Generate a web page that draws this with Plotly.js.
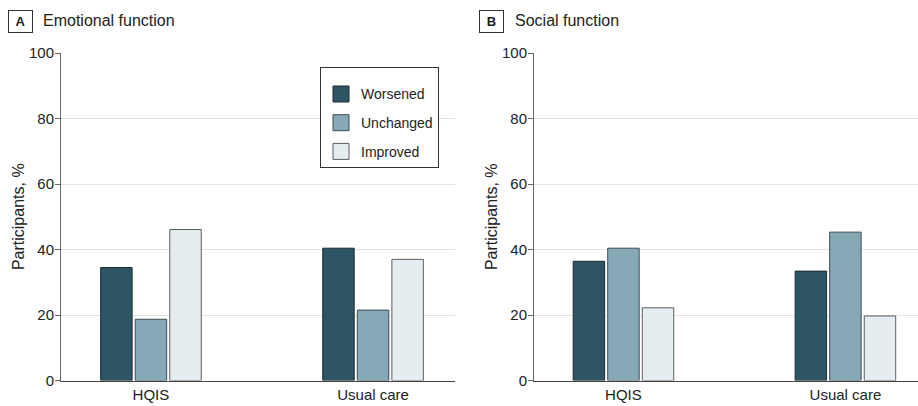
<!DOCTYPE html>
<html>
<head>
<meta charset="utf-8">
<script src="https://cdn.plot.ly/plotly-3.0.1.min.js"></script>
<style>html,body{margin:0;padding:0;background:#fff;}#chart{width:918px;height:406px;}</style>
</head>
<body>
<div id="chart"></div>
<script>
// ---- data ----
var categories = ['HQIS', 'Usual care'];
var seriesNames = ['Worsened', 'Unchanged', 'Improved'];
var emotionalWorsened = [34.5, 40.4];
var emotionalUnchanged = [18.7, 21.5];
var emotionalImproved = [46.1, 37.0];
var socialWorsened = [36.4, 33.4];
var socialUnchanged = [40.4, 45.3];
var socialImproved = [22.2, 19.7];
var panelTitles = ['Emotional function', 'Social function'];
var panelLetters = ['A', 'B'];
var yTicks = [0, 20, 40, 60, 80, 100];

// ---- styles ----
var fills = ['#2e5563', '#85a9b7', '#e5edf0'];
var outlines = ['#1e2b31', '#3f4c52', '#5a5f62'];
var FONT = 'Liberation Sans, Arial, sans-serif';
var W = 918, H = 406;
function px(x) { return x / W; }
function py(y) { return 1 - y / H; }

var emotional = [emotionalWorsened, emotionalUnchanged, emotionalImproved];
var social = [socialWorsened, socialUnchanged, socialImproved];

var traces = [];
[emotional, social].forEach(function (panel, p) {
  panel.forEach(function (vals, i) {
    traces.push({
      type: 'bar',
      x: categories,
      y: vals,
      name: seriesNames[i],
      xaxis: p === 0 ? 'x' : 'x2',
      yaxis: p === 0 ? 'y' : 'y2',
      marker: { color: fills[i], line: { color: outlines[i], width: 1 } },
      showlegend: false,
      hoverinfo: 'x+y+name'
    });
  });
});
// legend entries (square swatches)
seriesNames.forEach(function (n, i) {
  traces.push({
    type: 'scatter', mode: 'markers', x: [null], y: [null], name: n,
    legendgroup: n, xaxis: 'x', yaxis: 'y',
    marker: { symbol: 'square', size: 16, color: fills[i], line: { color: outlines[i], width: 1 } },
    showlegend: true, hoverinfo: 'skip'
  });
});

var yBottom = py(380.5), yTop = py(53);

function yAx(anchor) {
  return {
    domain: [yBottom, yTop], range: [0, 100], tickvals: yTicks, anchor: anchor,
    showgrid: true, gridcolor: '#e3e3e3', gridwidth: 1, zeroline: false,
    showline: true, linecolor: '#666', linewidth: 1,
    ticks: 'outside', ticklen: 5, tickcolor: '#666', tickwidth: 1,
    ticklabelstandoff: -2,
    tickfont: { family: FONT, size: 15, color: '#222' },
    title: { text: 'Participants, %', font: { family: FONT, size: 16, color: '#222' }, standoff: 0 },
    automargin: false, fixedrange: true
  };
}
function xAx(domain, range, anchor) {
  return {
    domain: domain, range: range, type: 'category', anchor: anchor,
    showgrid: false, zeroline: false, showline: true, linecolor: '#444', linewidth: 1,
    ticks: '', tickfont: { family: FONT, size: 15, color: '#222' },
    automargin: false, fixedrange: true
  };
}

var annotations = [];
[[8, 41], [479, 513]].forEach(function (pos, p) {
  annotations.push({
    xref: 'paper', yref: 'paper', x: px(pos[0]), y: py(10), xanchor: 'left', yanchor: 'top',
    text: '<b>' + panelLetters[p] + '</b>', showarrow: false,
    font: { family: FONT, size: 13, color: '#222' },
    bordercolor: '#333', borderwidth: 1, borderpad: 0, width: 23, height: 21, bgcolor: '#fff'
  });
  annotations.push({
    xref: 'paper', yref: 'paper', x: px(pos[1]), y: py(21), xanchor: 'left', yanchor: 'middle',
    text: panelTitles[p], showarrow: false,
    font: { family: FONT, size: 16, color: '#222' }
  });
});

var layout = {
  width: W, height: H,
  margin: { l: 0, r: 0, t: 0, b: 0, pad: 0 },
  paper_bgcolor: '#fff', plot_bgcolor: '#fff',
  barmode: 'group', bargap: 0.533, bargroupgap: 0.09,
  xaxis: xAx([px(61), px(455)], [-0.405, 1.369], 'y'),
  yaxis: yAx('x'),
  xaxis2: xAx([px(534), 1], [-0.403, 1.327], 'y2'),
  yaxis2: yAx('x2'),
  showlegend: true,
  legend: {
    x: px(320), y: py(67), xanchor: 'left', yanchor: 'top',
    bordercolor: '#333', borderwidth: 1, bgcolor: '#fff',
    font: { family: FONT, size: 14, color: '#222' },
    title: { text: ' ', font: { family: FONT, size: 8 } },
    traceorder: 'grouped', tracegroupgap: 7.5, itemwidth: 30
  },
  annotations: annotations,
  hovermode: 'closest'
};

Plotly.newPlot('chart', traces, layout, { displayModeBar: false, staticPlot: false });
</script>
</body>
</html>
